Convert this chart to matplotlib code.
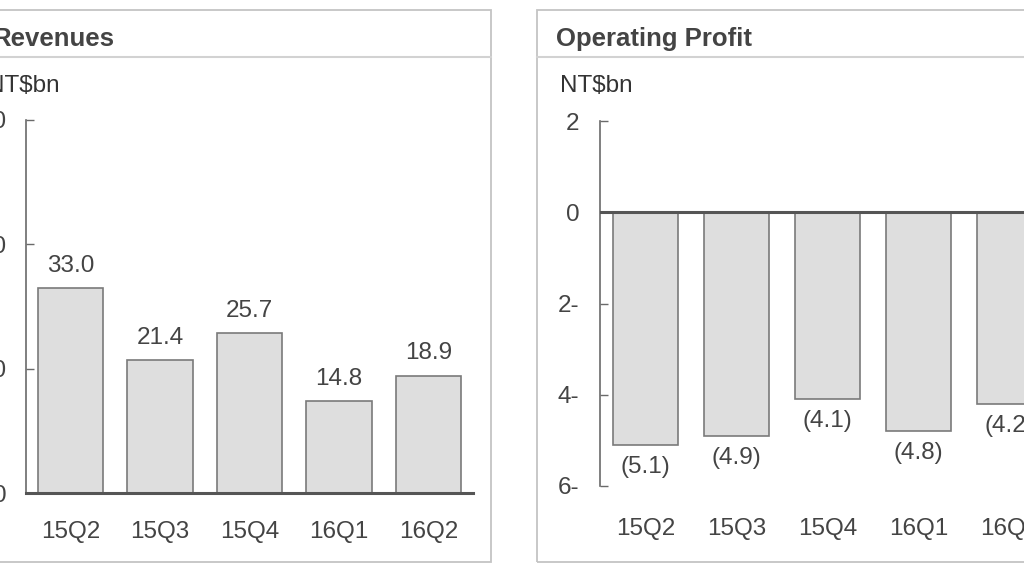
import matplotlib
matplotlib.use("Agg")
import matplotlib.pyplot as plt
from matplotlib.patches import Rectangle
from matplotlib.lines import Line2D

# data
quarters = ["15Q2", "15Q3", "15Q4", "16Q1", "16Q2"]
revenues = [33.0, 21.4, 25.7, 14.8, 18.9]
op_profit = [-5.1, -4.9, -4.1, -4.8, -4.2]
rev_ticks = [0, 20, 40, 60]
rev_ticklabels = ["0", "20", "40", "60"]
op_ticks = [2, 0, -2, -4, -6]
op_ticklabels = ["2", "0", "2-", "4-", "6-"]

plt.rcParams['font.family'] = ['Liberation Sans', 'DejaVu Sans']

W, H = 1024, 576
fig = plt.figure(figsize=(W / 100, H / 100), dpi=100)
fig.patch.set_facecolor("white")

txt = "#444444"
spine_c = "#6a6a6a"
bar_face = "#dedede"
bar_edge = "#7a7a7a"
fs = 17.5


def box(x0, y0, x1, y1):
    # pixel box (top-left origin) -> figure fraction
    return [x0 / W, 1 - y1 / H, (x1 - x0) / W, (y1 - y0) / H]


def fx(x):
    return x / W


def fy(y):
    return 1 - y / H


# panel frames with title strips
for x0, x1 in [(-10, 491), (537, 1040)]:
    fig.add_artist(Rectangle((fx(x0), fy(562)), fx(x1) - fx(x0), fy(10) - fy(562),
                             transform=fig.transFigure, fill=False,
                             edgecolor="#c4c4c4", lw=1.3))
    fig.add_artist(Line2D([fx(x0), fx(x1)], [fy(57), fy(57)],
                          transform=fig.transFigure, color="#d2d2d2", lw=1.5))

fig.text(fx(-8), fy(39), "Revenues", fontsize=18.5, fontweight="bold",
         color=txt, va="center", ha="left")
fig.text(fx(556), fy(39), "Operating Profit", fontsize=18.5, fontweight="bold",
         color=txt, va="center", ha="left")
fig.text(fx(-13), fy(86), "NT$bn", fontsize=fs, color="#333333", va="center", ha="left")
fig.text(fx(560), fy(86), "NT$bn", fontsize=fs, color="#333333", va="center", ha="left")

x = list(range(len(quarters)))

# Revenues panel
ax1 = fig.add_axes(box(26, 120, 473, 493))
ax1.bar(x, revenues, width=0.73, color=bar_face, edgecolor=bar_edge, lw=1.2, zorder=2)
for i, v in enumerate(revenues):
    ax1.annotate(f"{v:.1f}", (i, v), xytext=(0, 8), textcoords="offset points",
                 ha="center", va="bottom", fontsize=fs, color=txt)
ax1.set_xlim(-0.5, 4.5)
ax1.set_ylim(0, 60)
ax1.set_yticks(rev_ticks)
ax1.set_yticklabels(rev_ticklabels)
ax1.set_xticks(x)
ax1.set_xticklabels(quarters)
ax1.tick_params(axis="y", direction="in", length=6, width=1, color=spine_c,
                pad=14, labelsize=fs, labelcolor=txt)
ax1.tick_params(axis="x", length=0, pad=20, labelsize=fs, labelcolor=txt)
for s in ["top", "right"]:
    ax1.spines[s].set_visible(False)
ax1.spines["left"].set_color(spine_c)
ax1.spines["left"].set_linewidth(1.2)
ax1.spines["bottom"].set_color("#555555")
ax1.spines["bottom"].set_linewidth(2.2)
ax1.spines["bottom"].set_zorder(3)

# Operating profit panel
ax2 = fig.add_axes(box(600, 121, 1055, 486))
ax2.bar(x, op_profit, width=0.72, color=bar_face, edgecolor=bar_edge, lw=1.2, zorder=2)
for i, v in enumerate(op_profit):
    ax2.annotate(f"({abs(v):.1f})", (i, v), xytext=(0, -8), textcoords="offset points",
                 ha="center", va="top", fontsize=fs, color=txt)
ax2.axhline(0, color="#555555", lw=2.2, zorder=3)
ax2.set_xlim(-0.5, 4.5)
ax2.set_ylim(-6, 2)
ax2.set_yticks(op_ticks)
ax2.set_yticklabels(op_ticklabels)
ax2.set_xticks(x)
ax2.set_xticklabels(quarters)
ax2.tick_params(axis="y", direction="in", length=6, width=1, color=spine_c,
                pad=15, labelsize=fs, labelcolor=txt)
ax2.tick_params(axis="x", length=0, pad=23, labelsize=fs, labelcolor=txt)
for s in ["top", "right", "bottom"]:
    ax2.spines[s].set_visible(False)
ax2.spines["left"].set_color(spine_c)
ax2.spines["left"].set_linewidth(1.2)

fig.savefig("out.png", dpi=100)
